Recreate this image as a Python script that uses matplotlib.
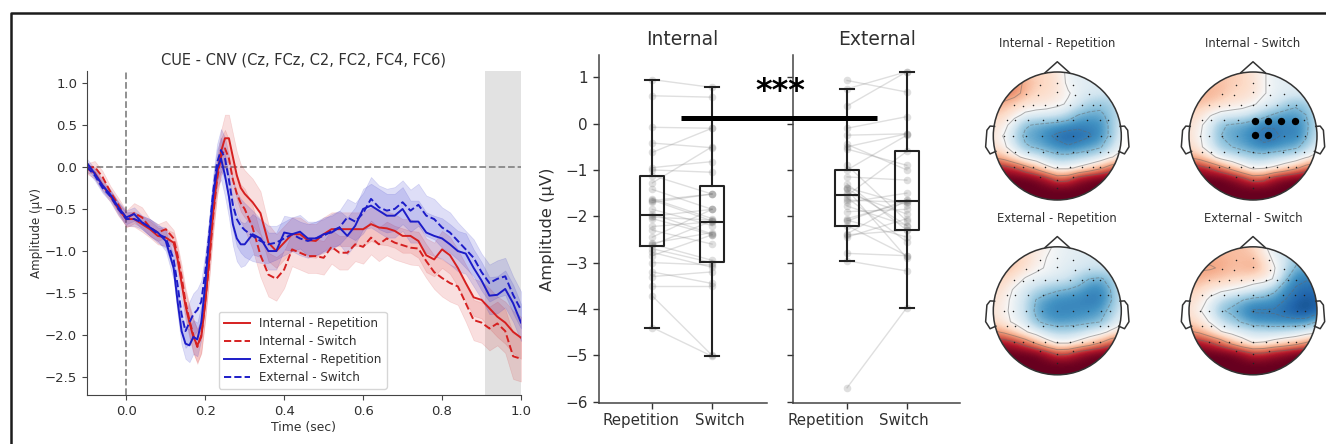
import numpy as np
import matplotlib
matplotlib.use('Agg')
import matplotlib.pyplot as plt
from matplotlib.lines import Line2D
from matplotlib.patches import Circle

W, H = 1326, 444

#erp time courses
times = np.round(np.concatenate([np.arange(-0.1, 0.1001, 0.02), np.arange(0.12, 0.3001, 0.01), np.arange(0.32, 1.0001, 0.02)]), 2)
int_rep = [-0.02,-0.07,-0.22,-0.35,-0.50,-0.62,-0.62,-0.68,-0.74,-0.82,-0.84,
           -0.90,-1.10,-1.38,-1.65,-1.85,-2.02,-2.12,-2.02,-1.62,-1.10,-0.55,-0.10,0.18,0.34,0.34,0.12,-0.10,-0.25,-0.32,
           -0.42,-0.55,-0.90,-1.00,-0.90,-0.80,-0.80,-0.87,-0.88,-0.80,-0.74,-0.74,-0.74,-0.74,-0.74,-0.68,-0.72,-0.73,-0.76,-0.82,-0.82,-0.88,-1.05,-1.10,-0.98,-1.05,-1.20,-1.38,-1.55,-1.58,-1.68,-1.78,-1.85,-1.96,-2.03]
int_sw = [-0.02,0.00,-0.12,-0.30,-0.45,-0.62,-0.55,-0.60,-0.72,-0.78,-0.74,
          -0.85,-1.05,-1.30,-1.60,-1.82,-2.00,-2.14,-2.00,-1.60,-1.15,-0.60,-0.15,0.12,0.22,0.10,-0.15,-0.32,-0.43,-0.50,
          -0.72,-1.05,-1.28,-1.33,-1.22,-0.98,-1.02,-1.06,-1.06,-1.08,-0.95,-1.02,-1.02,-0.92,-0.95,-0.84,-0.92,-0.85,-0.90,-0.93,-0.96,-0.97,-1.12,-1.25,-1.32,-1.38,-1.42,-1.62,-1.82,-1.85,-1.92,-1.86,-1.95,-2.25,-2.28]
ext_rep = [0.05,-0.08,-0.22,-0.33,-0.48,-0.60,-0.56,-0.66,-0.72,-0.78,-0.88,
           -1.20,-1.60,-1.95,-2.10,-2.12,-2.02,-2.05,-1.85,-1.40,-0.85,-0.35,-0.02,0.10,-0.10,-0.35,-0.68,-0.85,-0.92,-0.92,
           -0.80,-0.85,-1.00,-1.00,-0.78,-0.80,-0.77,-0.85,-0.85,-0.80,-0.78,-0.72,-0.82,-0.70,-0.50,-0.46,-0.52,-0.58,-0.58,-0.50,-0.65,-0.65,-0.78,-0.82,-0.85,-0.92,-1.00,-1.03,-1.20,-1.35,-1.53,-1.52,-1.45,-1.62,-1.85]
ext_sw = [0.00,-0.10,-0.25,-0.35,-0.50,-0.62,-0.62,-0.66,-0.72,-0.80,-0.84,
          -1.10,-1.40,-1.75,-1.95,-1.85,-1.75,-1.70,-1.60,-1.25,-0.80,-0.30,0.05,0.20,0.10,-0.15,-0.45,-0.62,-0.70,-0.75,
          -0.82,-0.88,-0.92,-0.90,-0.85,-0.80,-0.85,-0.88,-0.85,-0.82,-0.76,-0.72,-0.60,-0.65,-0.55,-0.38,-0.48,-0.52,-0.50,-0.42,-0.52,-0.45,-0.58,-0.62,-0.72,-0.78,-0.88,-0.98,-1.08,-1.25,-1.38,-1.33,-1.30,-1.52,-1.70]
#band half widths
int_rep_sem = [.06,.07,.07,.07,.08,.08,.09,.09,.1,.1,.1,
               .12,.13,.15,.17,.18,.2,.2,.2,.2,.2,.2,.22,.25,.28,.28,.28,.28,.28,.28,
               .28,.26,.22,.2,.2,.2,.2,.2,.2,.2,.2,.2,.2,.2,.2,.2,.2,.2,.2,.2,.2,.2,.2,.2,.22,.22,.22,.22,.22,.22,.24,.24,.25,.25,.25]
int_sw_sem = [.06,.07,.07,.07,.08,.1,.12,.12,.1,.1,.1,
              .1,.12,.14,.16,.18,.2,.2,.2,.2,.2,.2,.2,.22,.22,.22,.22,.22,.22,.24,
              .26,.26,.26,.26,.22,.2,.2,.2,.2,.2,.2,.2,.2,.2,.2,.2,.2,.2,.2,.2,.2,.2,.2,.2,.22,.22,.22,.22,.24,.24,.26,.26,.26,.27,.27]
ext_rep_sem = [.05,.06,.06,.06,.07,.08,.08,.08,.1,.1,.12,
               .14,.15,.16,.18,.2,.2,.2,.2,.2,.2,.2,.22,.25,.25,.25,.25,.27,.27,.25,
               .24,.22,.22,.22,.2,.2,.2,.2,.2,.2,.2,.2,.22,.22,.24,.26,.26,.26,.26,.26,.25,.25,.24,.24,.24,.24,.24,.24,.22,.22,.22,.22,.22,.22,.22]
ext_sw_sem = [.05,.06,.06,.06,.07,.08,.08,.08,.1,.1,.12,
              .14,.15,.18,.2,.25,.25,.25,.25,.22,.2,.2,.22,.25,.25,.28,.3,.32,.32,.32,
              .3,.26,.22,.2,.2,.2,.2,.2,.2,.2,.2,.2,.22,.22,.24,.26,.26,.26,.26,.26,.25,.25,.24,.24,.24,.24,.22,.22,.22,.22,.22,.22,.22,.22,.22]

#box stats: whislo, q1, median, q3, whishi
box_int_rep = [-4.4, -2.65, -1.97, -1.13, 0.95]
box_int_sw = [-5.02, -2.98, -2.13, -1.35, 0.78]
box_ext_rep = [-2.96, -2.22, -1.55, -1.0, 0.75]
box_ext_sw = [-3.97, -2.3, -1.68, -0.6, 1.12]

#single subject values
subj_int_rep = [0.95,0.6,-0.08,-0.42,-0.62,-0.95,-1.0,-1.12,-1.28,-1.42,-1.62,-1.65,-1.66,-1.7,-1.85,-1.95,-2.0,-2.02,-2.05,-2.22,-2.3,-2.45,-2.58,-2.6,-2.62,-2.7,-2.78,-2.85,-3.0,-3.2,-3.3,-3.5,-3.72,-4.4]
subj_int_sw = [0.78,0.57,-0.1,-0.52,-0.1,-0.82,-1.05,-1.52,-0.5,-1.85,-2.05,-2.1,-1.52,-1.52,-2.2,-2.38,-1.85,-2.08,-2.4,-2.12,-2.6,-1.85,-2.35,-2.95,-2.1,-3.0,-3.1,-2.4,-3.05,-3.45,-3.2,-3.5,-5.0,-5.02]
subj_ext_rep = [0.93,0.75,0.38,-0.1,-0.25,-0.45,-0.5,-0.55,-0.9,-1.0,-1.15,-1.3,-1.38,-1.4,-1.42,-1.5,-1.55,-1.6,-1.65,-1.7,-1.78,-1.9,-2.05,-2.08,-2.1,-2.2,-2.38,-2.4,-2.45,-2.8,-2.96,-5.7]
subj_ext_sw = [0.68,1.12,1.12,0.15,-0.22,-1.0,-0.22,-0.9,-2.1,-0.25,-1.22,-2.3,-1.75,-2.2,-2.9,-1.95,-0.6,-2.55,-1.7,-1.5,-2.2,-1.85,-1.7,-2.45,-1.65,-2.85,-1.65,-2.3,-2.05,-2.85,-3.18,-3.97]

#scalp maps, rows from front (y=1) to back (y=-1), columns left to right
map_int_rep = [
    [.3,.3,.3,.25,.2,.2,.1,-.05,-.1,-.1,-.1,-.1,-.1],
    [.45,.45,.45,.38,.25,.2,.15,-.05,-.1,-.12,-.15,-.15,-.15],
    [.55,.55,.5,.32,.2,.18,.12,.02,-.08,-.15,-.15,-.2,-.2],
    [.4,.35,.25,.15,.12,.1,.05,-.03,-.18,-.32,-.38,-.32,-.2],
    [.25,.2,.08,-.05,-.1,-.12,-.16,-.28,-.45,-.5,-.5,-.38,-.2],
    [.15,.08,-.15,-.42,-.48,-.52,-.56,-.6,-.65,-.65,-.62,-.4,-.15],
    [.12,-.02,-.28,-.5,-.55,-.65,-.75,-.8,-.78,-.72,-.62,-.4,-.1],
    [.15,.05,-.18,-.42,-.48,-.55,-.62,-.68,-.62,-.55,-.48,-.28,-.05],
    [.38,.28,.1,-.08,-.18,-.3,-.38,-.36,-.32,-.28,-.18,-.02,.08],
    [.85,.8,.7,.52,.32,.1,-.05,-.05,.05,.18,.35,.55,.7],
    [1,1,1,1,.95,.8,.58,.62,.85,.95,1,1,1],
    [1,1,1,1,1,1,1,1,1,1,1,1,1],
    [1,1,1,1,1,1,1,1,1,1,1,1,1]]
map_int_sw = [
    [.25,.25,.25,.25,.25,.2,.12,.02,-.08,-.1,-.1,-.1,-.1],
    [.3,.3,.3,.3,.25,.22,.15,.02,-.08,-.1,-.12,-.12,-.12],
    [.35,.35,.35,.3,.22,.18,.14,.02,-.08,-.12,-.12,-.12,-.12],
    [.3,.3,.25,.18,.12,.1,.03,-.08,-.15,-.3,-.4,-.35,-.2],
    [.22,.15,.02,-.08,-.1,-.14,-.24,-.36,-.48,-.55,-.55,-.45,-.25],
    [.15,.05,-.15,-.42,-.48,-.52,-.6,-.68,-.68,-.66,-.66,-.5,-.25],
    [.15,.02,-.2,-.45,-.52,-.58,-.68,-.76,-.74,-.66,-.68,-.48,-.2],
    [.18,.05,-.15,-.38,-.45,-.52,-.6,-.66,-.62,-.56,-.5,-.35,-.12],
    [.38,.28,.1,-.1,-.2,-.28,-.34,-.34,-.28,-.24,-.18,-.02,.08],
    [.85,.8,.68,.5,.3,.1,-.05,-.02,.05,.18,.35,.55,.7],
    [1,1,1,1,.92,.78,.58,.62,.85,.95,1,1,1],
    [1,1,1,1,1,1,1,1,1,1,1,1,1],
    [1,1,1,1,1,1,1,1,1,1,1,1,1]]
map_ext_rep = [
    [.2,.2,.2,.15,.1,.05,-.05,-.08,-.1,-.1,-.1,-.1,-.1],
    [.28,.28,.25,.2,.08,.0,-.05,-.1,-.12,-.15,-.15,-.15,-.15],
    [.3,.3,.25,.15,.05,-.02,-.08,-.12,-.15,-.2,-.2,-.2,-.2],
    [.28,.2,.12,-.02,-.08,-.12,-.15,-.2,-.32,-.45,-.48,-.38,-.25],
    [.2,.12,-.03,-.16,-.26,-.36,-.42,-.46,-.52,-.62,-.65,-.45,-.2],
    [.15,.08,-.08,-.22,-.46,-.55,-.62,-.64,-.66,-.7,-.68,-.48,-.2],
    [.12,.05,-.08,-.25,-.5,-.62,-.66,-.66,-.64,-.62,-.56,-.38,-.15],
    [.18,.08,-.05,-.18,-.42,-.52,-.58,-.56,-.54,-.5,-.46,-.25,-.08],
    [.45,.35,.2,.03,-.12,-.24,-.3,-.3,-.26,-.18,-.1,.05,.15],
    [.9,.85,.75,.58,.35,.12,-.02,-.02,.08,.22,.4,.6,.75],
    [1,1,1,1,.98,.85,.65,.68,.85,.95,1,1,1],
    [1,1,1,1,1,1,1,1,1,1,1,1,1],
    [1,1,1,1,1,1,1,1,1,1,1,1,1]]
map_ext_sw = [
    [.3,.3,.3,.3,.3,.3,.2,.05,-.15,-.25,-.3,-.3,-.3],
    [.35,.35,.35,.35,.32,.3,.3,.12,-.05,-.2,-.35,-.35,-.35],
    [.42,.42,.42,.38,.32,.32,.38,.22,.02,-.22,-.48,-.5,-.5],
    [.38,.35,.3,.26,.22,.2,.14,.1,-.02,-.4,-.65,-.68,-.68],
    [.25,.2,.1,.06,0,-.05,-.14,-.22,-.38,-.62,-.72,-.78,-.75],
    [.18,.1,-.05,-.24,-.36,-.44,-.52,-.54,-.6,-.7,-.8,-.85,-.8],
    [.15,.02,-.15,-.42,-.5,-.6,-.72,-.72,-.72,-.78,-.85,-.88,-.8],
    [.22,.12,-.02,-.24,-.36,-.48,-.6,-.62,-.64,-.64,-.64,-.62,-.45],
    [.45,.35,.18,.02,-.08,-.14,-.2,-.22,-.24,-.22,-.2,-.12,-.05],
    [.88,.82,.72,.55,.32,.12,.0,.02,.1,.18,.28,.42,.55],
    [1,1,1,1,.98,.88,.72,.75,.85,.92,1,1,1],
    [1,1,1,1,1,1,1,1,1,1,1,1,1],
    [1,1,1,1,1,1,1,1,1,1,1,1,1]]
grid_pts = [-1,-.83,-.67,-.5,-.33,-.17,0,.17,.33,.5,.67,.83,1]
grid_rows = [1,.83,.67,.5,.33,.17,0,-.17,-.33,-.5,-.67,-.83,-1]

#sensor positions in head radius units
sensor_x = [0,-.27,.25, -.49,-.3,0,.27,.49,
            -.68,-.53,-.375,-.19,0,.2,.38,.55,.67,
            -.79,-.66,-.46,-.23,0,.24,.47,.66,.79,
            -.83,-.69,-.49,-.245,0,.25,.48,.68,.82,
            -.79,-.66,-.46,-.23,0,.24,.47,.66,.79,
            -.68,-.53,-.375,-.19,0,.2,.38,.55,.67,
            -.27,0,.25,0]
sensor_y = [.83,.79,.79, .66,.64,.69,.64,.66,
            .48,.47,.48,.48,.48,.48,.48,.48,.48,
            .25,.25,.25,.25,.25,.25,.25,.25,.25,
            0,0,0,0,0,0,0,0,0,
            -.245,-.245,-.245,-.245,-.245,-.245,-.245,-.245,-.245,
            -.48,-.48,-.48,-.48,-.48,-.48,-.48,-.48,-.48,
            -.635,-.68,-.635,-.82]
cnv_x = [.03,.23,.44,.66,.03,.23]
cnv_y = [.24,.24,.24,.24,.02,.02]

text_col = '#303030'
plt.rcParams['font.family'] = 'DejaVu Sans'
plt.rcParams['text.color'] = text_col
plt.rcParams['axes.labelcolor'] = text_col
plt.rcParams['xtick.labelcolor'] = text_col
plt.rcParams['ytick.labelcolor'] = text_col

fig = plt.figure(figsize=(W / 100, H / 100), dpi=100, facecolor='white')


def add_ax(left, top, right, bottom):
    return fig.add_axes([left / W, 1 - bottom / H, (right - left) / W, (bottom - top) / H])


#frame of the panel
fig.add_artist(Line2D([11 / W, 11 / W, 1], [0, 1 - 13 / H, 1 - 13 / H], color='#1c1c1c', lw=1.8))

#left panel
ax = add_ax(86.8, 71, 521, 395)
series = [(int_rep, int_rep_sem, '#d62020', '-', 'Internal - Repetition'),
          (int_sw, int_sw_sem, '#d62020', '--', 'Internal - Switch'),
          (ext_rep, ext_rep_sem, '#1c1cc8', '-', 'External - Repetition'),
          (ext_sw, ext_sw_sem, '#1c1cc8', '--', 'External - Switch')]
ax.axvspan(0.91, 1.0, color='#e2e2e2', lw=0)
ax.axhline(0, color='#888888', ls='--', lw=1.3, zorder=1)
ax.axvline(0, color='#888888', ls='--', lw=1.3, zorder=1)
for vals, sem, col, ls, name in series:
    vals = np.array(vals)
    sem = np.array(sem)
    ax.fill_between(times, vals - sem, vals + sem, color=col, alpha=0.14, lw=0.5)
    ax.plot(times, vals, color=col, ls=ls, lw=1.4, label=name)
ax.set_xlim(-0.1, 1.0)
ax.set_ylim(-2.71, 1.139)
ax.set_xticks([0, 0.2, 0.4, 0.6, 0.8, 1.0])
ax.set_yticks([-2.5, -2, -1.5, -1, -0.5, 0, 0.5, 1])
ax.tick_params(labelsize=9.5, color='#444444', length=3.5, width=0.8)
ax.set_xlabel('Time (sec)', fontsize=8.9, labelpad=2)
ax.set_ylabel('Amplitude (µV)', fontsize=8.6, labelpad=1)
ax.set_title('CUE - CNV (Cz, FCz, C2, FC2, FC4, FC6)', fontsize=10.5, pad=5)
ax.spines[['top', 'right']].set_visible(False)
ax.spines[['left', 'bottom']].set_color('#444444')
ax.legend(loc='lower left', bbox_to_anchor=(0.304, 0.02), borderaxespad=0, fontsize=8.6, labelspacing=0.42,
          handlelength=2.2, labelcolor=text_col)

#middle panels
ax1 = add_ax(598.7, 55, 766.7, 403.3)
ax2 = add_ax(793.3, 55, 960, 403.3)
panels = [(ax1, 'Internal', subj_int_rep, subj_int_sw, box_int_rep, box_int_sw, (-0.898, 1.916), (-0.19, 1.13)),
          (ax2, 'External', subj_ext_rep, subj_ext_sw, box_ext_rep, box_ext_sw, (-0.9, 1.89), (-0.35, 0.95))]
for a, name, rep, sw, b_rep, b_sw, xl, lab_x in panels:
    for r, s in zip(rep, sw):
        a.plot([0, 1], [r, s], color='#808080', lw=1, alpha=0.25, zorder=1)
    a.scatter(np.zeros(len(rep)), rep, s=30, color='#707070', alpha=0.22, lw=0, zorder=2)
    a.scatter(np.ones(len(sw)), sw, s=30, color='#707070', alpha=0.22, lw=0, zorder=2)
    stats = []
    for b in (b_rep, b_sw):
        stats.append({'whislo': b[0], 'q1': b[1], 'med': b[2], 'q3': b[3], 'whishi': b[4], 'fliers': []})
    style = {'color': '#222222', 'lw': 1.5}
    a.bxp(stats, positions=[0, 1], widths=0.4, capwidths=0.24, showfliers=False, boxprops=style, whiskerprops=style,
          capprops=style, medianprops=style, manage_ticks=False, zorder=3)
    a.set_xlim(*xl)
    a.set_ylim(-6.035, 1.48)
    a.set_xticks([0, 1])
    a.set_xticklabels([])
    #the labels sit off their ticks in the original
    a.text(lab_x[0], -0.049, 'Repetition', transform=a.get_xaxis_transform(), ha='center', va='center', fontsize=10.8)
    a.text(lab_x[1], -0.049, 'Switch', transform=a.get_xaxis_transform(), ha='center', va='center', fontsize=10.8)
    a.set_yticks(range(-6, 2))
    a.tick_params(axis='y', labelsize=11, color='#333333', length=4.5, width=1)
    a.tick_params(axis='x', color='#333333', length=4, width=1)
    a.spines[['top', 'right']].set_visible(False)
    a.spines[['left', 'bottom']].set_color('#444444')
    a.spines[['left', 'bottom']].set_linewidth(1.1)
    a.patch.set_alpha(0)
    a.text(0.5, 1.018, name, transform=a.transAxes, ha='center', va='bottom', fontsize=13.5)
ax2.set_yticklabels([])
ax1.set_ylabel('Amplitude (µV)', fontsize=11.8, labelpad=7)
ax1.set_zorder(3)
#contrast bar between the two panels
ax1.plot([0.48, 3.76], [0.13, 0.13], color='black', lw=3.6, clip_on=False, solid_capstyle='butt', zorder=5)
ax1.text(2.15, 0.70, '***', ha='center', va='center', fontsize=23, fontweight='bold', color='black', clip_on=False)

#scalp maps
maps = [(map_int_rep, 'Internal - Repetition', 1057.3, 136, False),
        (map_int_sw, 'Internal - Switch', 1253, 136, True),
        (map_ext_rep, 'External - Repetition', 1057.3, 310.8, False),
        (map_ext_sw, 'External - Switch', 1253, 310.8, False)]
r_px = 64
for m, name, cx, cy, mark in maps:
    a = add_ax(cx - 1.25 * r_px, cy - 1.25 * r_px, cx + 1.25 * r_px, cy + 1.25 * r_px)
    a.set_xlim(-1.25, 1.25)
    a.set_ylim(-1.25, 1.25)
    a.axis('off')
    a.patch.set_alpha(0)
    im = a.imshow(m, extent=[-1.083, 1.083, -1.083, 1.083], cmap='RdBu_r', vmin=-1, vmax=1, interpolation='bicubic', origin='upper')
    head = Circle((0, 0), 1, transform=a.transData, fc='none', ec='#333333', lw=1.1, zorder=5)
    a.add_patch(head)
    im.set_clip_path(head)
    cs = a.contour(grid_pts, grid_rows, m, levels=[-.7, -.45, 0, .4, .7], colors='#666666', linewidths=0.7, alpha=0.5)
    cs.set_clip_path(head)
    a.scatter(sensor_x, sensor_y, s=1.2, color='#222222', lw=0, zorder=6)
    if mark:
        a.scatter(cnv_x, cnv_y, s=28, color='black', lw=0, zorder=7)
    a.plot([-.19, 0, .19], [.99, 1.16, .99], color='#333333', lw=1.1)
    ear_x = [.98, 1.05, 1.1, 1.12, 1.05, .96]
    ear_y = [.15, .155, .09, -.17, -.28, -.24]
    a.plot(ear_x, ear_y, color='#333333', lw=1.1)
    a.plot(-np.array(ear_x), ear_y, color='#333333', lw=1.1)
    a.text(0, 1.34, name, ha='center', va='bottom', fontsize=8.4, clip_on=False)

fig.savefig('out.png', dpi=100)
